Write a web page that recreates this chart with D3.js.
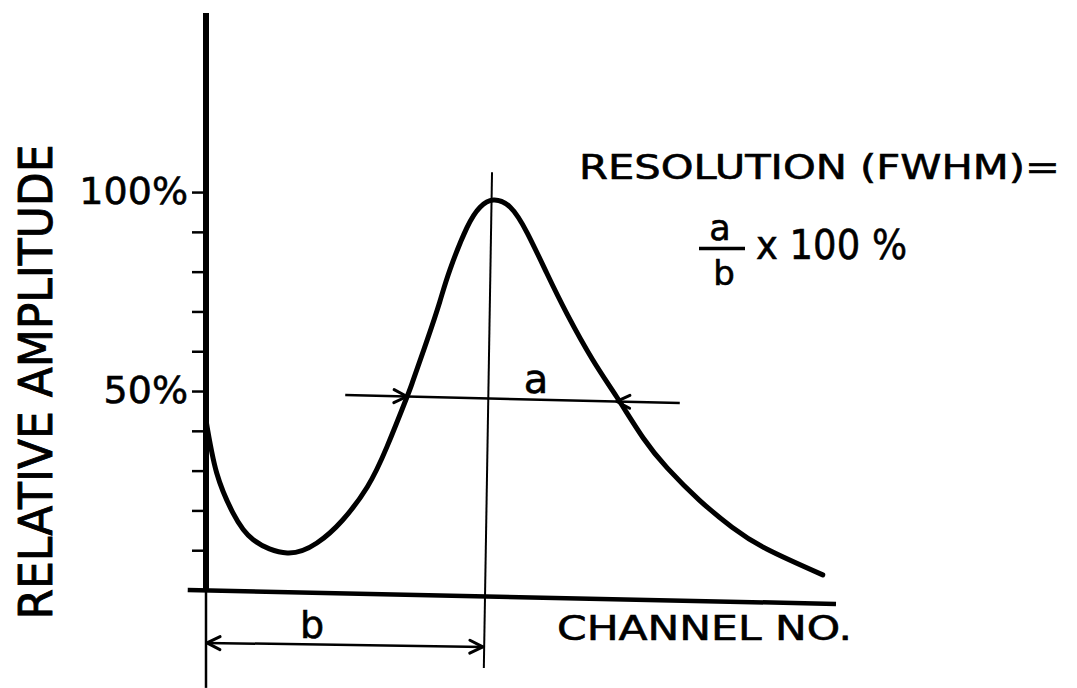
<!DOCTYPE html>
<html>
<head>
<meta charset="utf-8">
<script src="https://cdn.jsdelivr.net/npm/d3@7"></script>
<style>
  body { margin: 0; background: #fff; }
  svg { display: block; }
  text { font-family: "DejaVu Sans", sans-serif; fill: #000; stroke: #000; stroke-width: 0.6px; }
</style>
</head>
<body>
<div id="container"></div>
<script>
/* CONSTANTS AND GLOBALS */
const width = 1077,
  height = 688

// spectrum (channel, relative amplitude %)
const channel = [0, 1.7, 4.3, 7.5, 12.9, 17.6, 21.7, 25.6, 28.7, 31.9, 32.9, 35.1, 37.1, 38.7, 41.4, 43.5, 45.6,
  48.3, 51.0, 54.1, 57.3, 61.4, 65.2, 69.4, 73.2, 78.3, 83.5, 89.0, 97.9]
const amplitude = [42.7, 29.4, 19.3, 12.6, 9.3, 11.8, 17.6, 25.9, 35.9, 48.5, 52.8, 62.8, 72.4, 80.4, 91.0, 96.2, 98.0,
  96.2, 89.7, 79.6, 69.4, 57.8, 48.5, 38.2, 30.7, 22.6, 15.8, 10.3, 3.8]

const tickValues = [0, 10, 20, 30, 40, 50, 60, 70, 80, 90, 100]
const tickLabels = { 50: "50%", 100: "100%" }

// construction lines
const peakChannel = [45.4, 44.1]
const peakAmp = [105, -19.6]
const halfMax = { x0: 22.1, y0: 49.0, x1: 75.2, y1: 47.0, left: 31.9, right: 65.2 }
const bArrow = { x0: 0, y0: -13.3, x1: 44.1, y1: -14.3 }

const svg = d3.select("#container")
  .append("svg")
  .attr("width", width)
  .attr("height", height)

//scales
const xScale = d3.scaleLinear()
  .domain([0, 100])
  .range([206, 836])

const yScale = d3.scaleLinear()
  .domain([0, 145])
  .range([590, 13])

const line = d3.line()
  .x(d => xScale(d[0]))
  .y(d => yScale(d[1]))

//y-axis: thick above the x-axis, thin below it
svg.append("path")
  .attr("d", line([[0, 145], [0, 0]]))
  .attr("stroke", "#000")
  .attr("stroke-width", 6)

svg.append("path")
  .attr("d", line([[0, 0], [0, -24.6]]))
  .attr("stroke", "#000")
  .attr("stroke-width", 2.5)

const yAxis = d3.axisLeft(yScale)
  .tickValues(tickValues)
  .tickSize(12)
  .tickPadding(4)
  .tickFormat(d => tickLabels[d] || "")

const yAxisG = svg.append("g")
  .attr("class", "y-axis")
  .attr("transform", `translate(${xScale(0) - 2},0)`)
  .call(yAxis)

yAxisG.select(".domain").remove()
yAxisG.selectAll(".tick line")
  .attr("stroke", "#000")
  .attr("stroke-width", 2.5)
yAxisG.selectAll(".tick text")
  .attr("font-size", 38)
  .attr("font-family", "DejaVu Sans")
  .attr("fill", "#000")
  .attr("dy", "0.3em")

//x-axis (drawn slightly slanted like the original)
svg.append("path")
  .attr("d", line([[-2.9, 0], [100, -3.5]]))
  .attr("stroke", "#000")
  .attr("stroke-width", 4.5)

//peak marker line
svg.append("path")
  .attr("d", line([[peakChannel[0], peakAmp[0]], [peakChannel[1], peakAmp[1]]]))
  .attr("stroke", "#000")
  .attr("stroke-width", 2)

//spectrum
svg.append("path")
  .datum(channel.map((c, i) => [c, amplitude[i]]))
  .attr("d", d3.line()
    .x(d => xScale(d[0]))
    .y(d => yScale(d[1]))
    .curve(d3.curveNatural))
  .attr("fill", "none")
  .attr("stroke", "#000")
  .attr("stroke-width", 5)
  .attr("stroke-linecap", "round")

//arrow helper: open V head with tip at (tx,ty) pointing along (dx,dy)
function arrowHead(tx, ty, dx, dy) {
  const len = Math.hypot(dx, dy)
  const ux = dx / len, uy = dy / len
  const L = 13, W = 6.5
  const p1 = [tx - ux * L - uy * W, ty - uy * L + ux * W]
  const p2 = [tx - ux * L + uy * W, ty - uy * L - ux * W]
  svg.append("path")
    .attr("d", `M${p1[0]},${p1[1]}L${tx},${ty}L${p2[0]},${p2[1]}`)
    .attr("fill", "none")
    .attr("stroke", "#000")
    .attr("stroke-width", 3)
    .attr("stroke-linecap", "round")
    .attr("stroke-linejoin", "round")
}

//half maximum line with inward arrows
const hx0 = xScale(halfMax.x0), hy0 = yScale(halfMax.y0)
const hx1 = xScale(halfMax.x1), hy1 = yScale(halfMax.y1)
svg.append("path")
  .attr("d", `M${hx0},${hy0}L${hx1},${hy1}`)
  .attr("stroke", "#000")
  .attr("stroke-width", 2.5)
const slope = (hy1 - hy0) / (hx1 - hx0)
const lx = xScale(halfMax.left), rx = xScale(halfMax.right)
arrowHead(lx, hy0 + slope * (lx - hx0), 1, slope)
arrowHead(rx, hy0 + slope * (rx - hx0), -1, -slope)

svg.append("text")
  .attr("x", 536)
  .attr("y", 393)
  .attr("text-anchor", "middle")
  .attr("font-size", 40)
  .text("a")

//b dimension arrow
const bx0 = xScale(bArrow.x0), by0 = yScale(bArrow.y0)
const bx1 = xScale(bArrow.x1), by1 = yScale(bArrow.y1)
svg.append("path")
  .attr("d", `M${bx0},${by0}L${bx1},${by1}`)
  .attr("stroke", "#000")
  .attr("stroke-width", 2.5)
arrowHead(bx0 + 1, by0, -(bx1 - bx0), -(by1 - by0))
arrowHead(bx1 - 1, by1, bx1 - bx0, by1 - by0)

svg.append("text")
  .attr("x", 312)
  .attr("y", 638)
  .attr("text-anchor", "middle")
  .attr("font-size", 38)
  .text("b")

//axis titles
svg.append("text")
  .attr("transform", "translate(52,382) rotate(-90)")
  .attr("text-anchor", "middle")
  .attr("font-size", 47)
  .attr("textLength", 475)
  .attr("lengthAdjust", "spacingAndGlyphs")
  .style("stroke-width", "0.9px")
  .text("RELATIVE AMPLITUDE")

svg.append("text")
  .attr("x", 557)
  .attr("y", 640)
  .attr("font-size", 34)
  .attr("textLength", 295)
  .attr("lengthAdjust", "spacingAndGlyphs")
  .text("CHANNEL NO.")

//resolution formula
svg.append("text")
  .attr("x", 579)
  .attr("y", 179)
  .attr("font-size", 33)
  .attr("textLength", 481)
  .attr("lengthAdjust", "spacingAndGlyphs")
  .text("RESOLUTION (FWHM)=")

svg.append("text")
  .attr("x", 720)
  .attr("y", 240)
  .attr("text-anchor", "middle")
  .attr("font-size", 35)
  .text("a")

svg.append("line")
  .attr("x1", 699).attr("x2", 745)
  .attr("y1", 248.5).attr("y2", 248.5)
  .attr("stroke", "#000")
  .attr("stroke-width", 3.5)

svg.append("text")
  .attr("x", 724)
  .attr("y", 285)
  .attr("text-anchor", "middle")
  .attr("font-size", 34)
  .text("b")

svg.append("text")
  .attr("x", 756)
  .attr("y", 259)
  .attr("font-size", 41)
  .attr("textLength", 151)
  .attr("lengthAdjust", "spacingAndGlyphs")
  .text("x 100 %")
</script>
</body>
</html>
